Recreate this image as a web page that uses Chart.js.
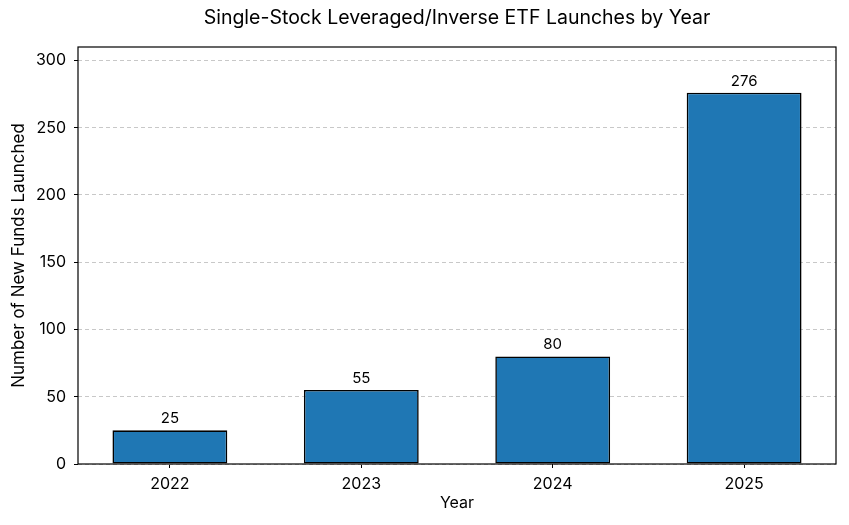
<!DOCTYPE html>
<html>
<head>
<meta charset="utf-8">
<script src="https://cdn.jsdelivr.net/npm/chart.js@4.4.1/dist/chart.umd.min.js"></script>
<style>
  html, body { margin: 0; padding: 0; background: #fff; }
  #wrap { width: 849px; height: 525px; }
</style>
</head>
<body>
<div id="wrap"><canvas id="launchChart"></canvas></div>
<script>
// ── Data ──────────────────────────────────────────────────────────────────
const years = ['2022', '2023', '2024', '2025'];
const launches = [25, 55, 80, 276];
const yTicks = [0, 50, 100, 150, 200, 250, 300];
const chartTitle = 'Single-Stock Leveraged/Inverse ETF Launches by Year';

const FONT = 'Inter, "Open Sans", sans-serif';

// Title, black frame + value labels on bars
const framePlugin = {
    id: 'frame',
    afterDatasetsDraw(chart) {
        const { ctx, chartArea: a } = chart;
        ctx.save();
        ctx.strokeStyle = '#000';
        ctx.lineWidth = 1.2;
        ctx.strokeRect(a.left, a.top, a.right - a.left, a.bottom - a.top);

        ctx.fillStyle = '#000';
        ctx.textAlign = 'center';
        ctx.textBaseline = 'middle';
        ctx.font = '19.5px ' + FONT;
        ctx.fillText(chartTitle, (a.left + a.right) / 2, 18);

        ctx.font = '15px ' + FONT;
        ctx.textBaseline = 'bottom';
        chart.getDatasetMeta(0).data.forEach((bar, i) => {
            ctx.fillText(String(launches[i]), bar.x, bar.y - 4);
        });
        ctx.restore();
    }
};

const ctx = document.getElementById('launchChart').getContext('2d');
new Chart(ctx, {
    type: 'bar',
    data: {
        datasets: [{
            data: launches.map((v, i) => ({ x: i, y: v })),
            backgroundColor: '#1f77b4',
            borderColor: '#000',
            borderWidth: 1.6,
            borderSkipped: false,
            barPercentage: 0.6,
            categoryPercentage: 1.0
        }]
    },
    options: {
        responsive: true,
        maintainAspectRatio: false,
        animation: false,
        layout: { padding: { left: 0, right: 13, top: 47, bottom: 0 } },
        plugins: {
            legend: { display: false },
            tooltip: { enabled: false },
            title: { display: false }
        },
        scales: {
            x: {
                type: 'linear',
                min: -0.48,
                max: 3.48,
                offset: false,
                afterBuildTicks: s => { s.ticks = years.map((_, i) => ({ value: i })); },
                grid: { display: true, offset: false, drawOnChartArea: false, drawTicks: true, tickLength: 4, tickColor: '#000' },
                border: { display: false },
                ticks: { color: '#000', font: { family: FONT, size: 16 }, padding: 7, callback: v => years[v] },
                title: { display: true, text: 'Year', color: '#000', font: { family: FONT, size: 16 }, padding: { top: 0, bottom: 12 } },
                afterFit: s => { s.height = 61; }
            },
            y: {
                min: 0,
                max: 310,
                afterBuildTicks: s => { s.ticks = yTicks.map(v => ({ value: v })); },
                grid: { color: '#c8c8c8', lineWidth: 1, drawTicks: true, tickLength: 4, tickColor: '#000', tickBorderDash: [] },
                border: { display: false, dash: [4, 3] },
                ticks: { color: '#000', font: { family: FONT, size: 16 }, padding: 8 },
                title: { display: true, text: 'Number of New Funds Launched', color: '#000', font: { family: FONT, size: 17 }, padding: { top: 9, bottom: 0 } },
                afterFit: s => { s.width = 78; }
            }
        }
    },
    plugins: [framePlugin]
});
</script>
</body>
</html>
